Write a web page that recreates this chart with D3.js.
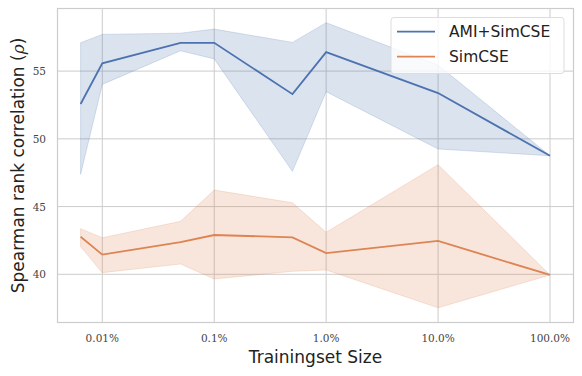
<!DOCTYPE html>
<html>
<head>
<meta charset="utf-8">
<script src="https://cdn.jsdelivr.net/npm/d3@7"></script>
<style>
  body { margin: 0; background: #fff; }
  svg { display: block; }
</style>
</head>
<body>
<div id="top_div"></div>
<script>
// training set size in percent
var sizes = [0.0064, 0.01, 0.05, 0.1, 0.5, 1, 10, 100];

var amiMean  = [52.57, 55.57, 57.09, 57.09, 53.30, 56.40, 53.38, 48.75];
var amiUpper = [57.09, 57.71, 57.80, 58.10, 57.12, 58.57, 55.45, 48.75];
var amiLower = [47.38, 54.02, 56.50, 55.90, 47.60, 53.48, 49.25, 48.75];

var simMean  = [42.77, 41.45, 42.38, 42.90, 42.73, 41.57, 42.46, 39.95];
var simUpper = [43.37, 42.70, 43.91, 46.22, 45.28, 43.10, 48.09, 39.95];
var simLower = [42.04, 40.12, 40.76, 39.65, 40.22, 40.32, 37.53, 39.95];

var xTicks = [0.01, 0.1, 1, 10, 100];
var xTickLabels = ['0.01%', '0.1%', '1.0%', '10.0%', '100.0%'];
var yTicks = [40, 45, 50, 55];

var seriesList = [
  { name: 'AMI+SimCSE', mean: amiMean, upper: amiUpper, lower: amiLower, color: '#4c72b0' },
  { name: 'SimCSE', mean: simMean, upper: simUpper, lower: simLower, color: '#dd8452' }
];

var width = 582, height = 376;
var plotLeft = 57.5, plotRight = 573.5, plotTop = 8.5, plotBottom = 322.5;

var vis = d3.select('#top_div')
  .append('svg')
    .attr('width', width)
    .attr('height', height);

// 0.01 -> 102.3, 100 -> 550
var x = d3.scaleLog()
  .domain([0.01, 100])
  .range([102.3, 550]);

var y = d3.scaleLinear()
  .domain([40, 55])
  .range([274.3, 71.1]);

// grid
vis.append('g').selectAll('line')
  .data(xTicks).enter().append('line')
    .attr('x1', (d) => x(d)).attr('x2', (d) => x(d))
    .attr('y1', plotTop).attr('y2', plotBottom)
    .attr('stroke', '#cccccc').attr('stroke-width', 1);
vis.append('g').selectAll('line')
  .data(yTicks).enter().append('line')
    .attr('x1', plotLeft).attr('x2', plotRight)
    .attr('y1', (d) => y(d)).attr('y2', (d) => y(d))
    .attr('stroke', '#cccccc').attr('stroke-width', 1);

// bands and lines
var area = d3.area()
  .x((d, i) => x(sizes[i]))
  .y0((d) => y(d[0]))
  .y1((d) => y(d[1]));
var line = d3.line()
  .x((d, i) => x(sizes[i]))
  .y((d) => y(d));

seriesList.forEach(function(s) {
  var pairs = s.lower.map((v, i) => [v, s.upper[i]]);
  vis.append('path')
    .attr('d', area(pairs))
    .attr('fill', s.color)
    .attr('fill-opacity', 0.2)
    .attr('stroke', s.color)
    .attr('stroke-opacity', 0.2)
    .attr('stroke-width', 1);
});
seriesList.forEach(function(s) {
  vis.append('path')
    .attr('d', line(s.mean))
    .attr('fill', 'none')
    .attr('stroke', s.color)
    .attr('stroke-width', 1.8);
});

// frame
vis.append('rect')
  .attr('x', plotLeft).attr('y', plotTop)
  .attr('width', plotRight - plotLeft).attr('height', plotBottom - plotTop)
  .attr('fill', 'none')
  .attr('stroke', '#cccccc')
  .attr('stroke-width', 1.2);

// tick labels
vis.append('g').selectAll('text')
  .data(xTicks).enter().append('text')
    .text((d, i) => xTickLabels[i])
    .attr('x', (d) => x(d))
    .attr('y', 342)
    .attr('text-anchor', 'middle')
    .attr('font-family', 'DejaVu Serif, serif')
    .attr('font-size', '10.5px')
    .attr('fill', '#444');
vis.append('g').selectAll('text')
  .data(yTicks).enter().append('text')
    .text((d) => d)
    .attr('x', 46)
    .attr('y', (d) => y(d) + 4)
    .attr('text-anchor', 'end')
    .attr('font-family', 'DejaVu Serif, serif')
    .attr('font-size', '10.5px')
    .attr('fill', '#444');

// axis titles
vis.append('text')
  .text('Trainingset Size')
  .attr('x', (plotLeft + plotRight) / 2)
  .attr('y', 363)
  .attr('text-anchor', 'middle')
  .attr('font-family', 'DejaVu Sans, sans-serif')
  .attr('font-size', '17px')
  .attr('fill', '#222');

var ylab = vis.append('text')
  .attr('transform', 'translate(24,' + ((plotTop + plotBottom) / 2) + ') rotate(-90)')
  .attr('text-anchor', 'middle')
  .attr('font-family', 'DejaVu Sans, sans-serif')
  .attr('font-size', '17px')
  .attr('fill', '#222');
ylab.append('tspan').text('Spearman rank correlation (');
ylab.append('tspan').text('ρ').attr('font-family', 'DejaVu Serif, serif').attr('font-style', 'italic');
ylab.append('tspan').text(')');

// legend
var legend = vis.append('g');
legend.append('rect')
  .attr('x', 391).attr('y', 17.5)
  .attr('width', 173).attr('height', 56)
  .attr('rx', 3)
  .attr('fill', '#fff').attr('fill-opacity', 0.8)
  .attr('stroke', '#dddddd').attr('stroke-width', 1);
seriesList.forEach(function(s, i) {
  var ly = 31.7 + i * 25;
  legend.append('line')
    .attr('x1', 397).attr('x2', 435)
    .attr('y1', ly).attr('y2', ly)
    .attr('stroke', s.color).attr('stroke-width', 1.8);
  legend.append('text')
    .text(s.name)
    .attr('x', 449)
    .attr('y', ly + 5.5)
    .attr('font-family', 'DejaVu Sans, sans-serif')
    .attr('font-size', '15.5px')
    .attr('fill', '#222');
});
</script>
</body>
</html>
